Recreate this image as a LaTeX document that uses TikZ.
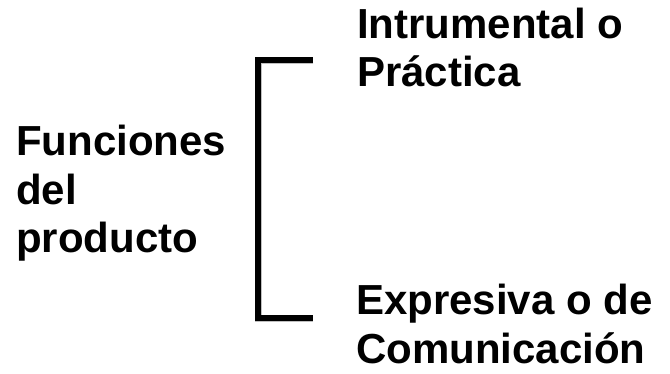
\documentclass[tikz,border=0pt]{standalone}
\usepackage{fontspec}
\setmainfont{Liberation Sans}
\begin{document}
\begin{tikzpicture}[x=1pt,y=-1pt,
  lbl/.style={anchor=north west,inner sep=0pt,align=left,
    font=\fontsize{42}{48.5}\selectfont\bfseries},
  brk/.style={line width=6pt,line join=miter,line cap=butt,draw=black},
  brkshadow/.style={line width=7pt,line join=miter,draw=black!45}]
\useasboundingbox[fill=white] (0,0) rectangle (670,373);
\node[lbl] (func) at (16,125) {Funciones\\del\\producto};
\node[lbl] (instr) at (357,7.5) {Intrumental o\\Práctica};
\node[lbl] (expr) at (356,284) {Expresiva o de\\Comunicación};
\coordinate (tA) at (313,60);
\coordinate (tB) at (258,60);
\coordinate (bB) at (258,318);
\coordinate (bA) at (313,318);
\foreach \d/\o in {1/0.25,2/0.2,3/0.15,4/0.1}{
  \draw[brkshadow,opacity=\o,shift={(\d,\d+1)}] (tA) -- (tB) -- (bB) -- (bA);
}
\draw[brk] (tA) -- (tB) -- (bB) -- (bA);
\end{tikzpicture}
\end{document}
